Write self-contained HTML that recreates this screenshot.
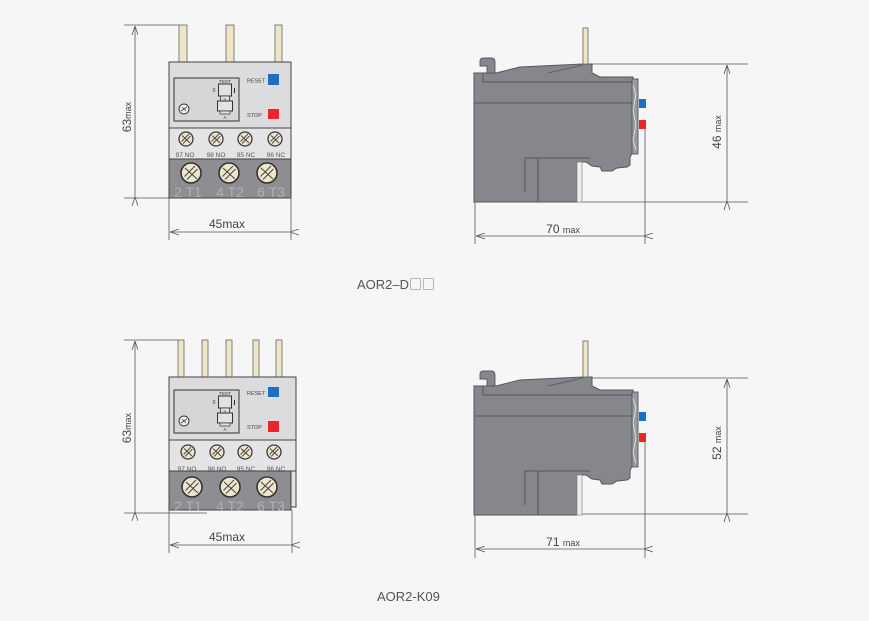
<!DOCTYPE html>
<html><head><meta charset="utf-8"><style>
html,body{margin:0;padding:0;background:#f6f6f6;}
svg{display:block;}
text{font-family:"Liberation Sans",Arial,sans-serif;}
</style></head><body>
<svg width="869" height="621" viewBox="0 0 869 621" xmlns="http://www.w3.org/2000/svg">
<defs>
<marker id="ar" markerWidth="10" markerHeight="8" refX="0" refY="3" orient="auto" markerUnits="userSpaceOnUse">
<path d="M9,0 L0,3 L9,6" fill="none" stroke="#555" stroke-width="0.8"/>
</marker>
<g id="sm">
<circle r="7" fill="#ede6cc" stroke="#3a3a3a" stroke-width="1.3"/>
<path d="M-4.5,2.5 L3,-5 M-3,4.5 L4.5,-3 M-4,-3.5 L4,4" stroke="#444" stroke-width="0.9" fill="none"/>
</g>
<g id="bg">
<circle r="10" fill="#ede6cc" stroke="#333" stroke-width="1.6"/>
<path d="M-6.5,3.5 L4,-7 M-4,6.5 L6.5,-4 M-6,-5 L6,6" stroke="#444" stroke-width="1" fill="none"/>
</g>
<g id="win">
<rect x="0" y="0" width="65" height="43" fill="#d6d6d8" stroke="#333" stroke-width="1"/>
<circle cx="10" cy="31" r="5" fill="#f2f2f2" stroke="#333" stroke-width="0.9"/>
<path d="M7,33 L13,29 M8,29 L12,33" stroke="#444" stroke-width="0.8"/>
<text x="51" y="5" font-size="4.5" text-anchor="middle" fill="#333">TEST</text>
<rect x="44.5" y="6" width="13" height="12" fill="#e2e2e2" stroke="#333" stroke-width="1"/>
<rect x="46.5" y="18" width="9" height="5" fill="#e2e2e2" stroke="#333" stroke-width="0.8"/>
<text x="51" y="22.3" font-size="4" text-anchor="middle" fill="#333">H</text>
<rect x="43.5" y="23" width="15" height="10" fill="#e2e2e2" stroke="#333" stroke-width="1"/>
<rect x="46" y="33" width="10" height="3" fill="#e2e2e2" stroke="#333" stroke-width="0.7"/>
<text x="51" y="41" font-size="4.5" text-anchor="middle" fill="#333">A</text>
<text x="40" y="14" font-size="5" text-anchor="middle" fill="#333">0</text>
<rect x="60" y="10" width="1" height="5" fill="#333"/>
</g>
<g id="side">
<path d="M480,66 L480,61 Q480,58 484,58 L491,58 Q495,58 495,62 L495,73 L487,73 L487,66 Z" fill="#86878c" stroke="#55565b" stroke-width="0.9"/>
<path d="M474,73 L496,73 L520,67 L583,64 L592,64 L592,73 L600,77 L633,77 L633,150 L630,158 L630,165 L627,167 L617,168 L612,171 L602,171 L600,167 L592,166 L586,162 L577,162 L577,202 L474,202 Z" fill="#86878c" stroke="#55565b" stroke-width="1"/>
<path d="M483,73 L483,82 L633,82" fill="none" stroke="#55565b" stroke-width="1"/>
<path d="M548,73 L583,65" fill="none" stroke="#55565b" stroke-width="0.8"/>
<path d="M474,103 L633,103" fill="none" stroke="#55565b" stroke-width="1"/>
<path d="M525,192 L525,158 L590,158" fill="none" stroke="#55565b" stroke-width="1"/>
<path d="M538,158 L538,202" fill="none" stroke="#55565b" stroke-width="1"/>
<rect x="632" y="79" width="6" height="75" fill="#9a9ba0" stroke="#55565b" stroke-width="0.9"/>
<path d="M633,85 L636,95 L633,110 L636,125 L633,140 L636,150" fill="none" stroke="#e8e8e8" stroke-width="0.8"/>
<rect x="577" y="162" width="5" height="40" fill="#eeeeee" stroke="#8a8a8a" stroke-width="0.7"/>
<rect x="639" y="99" width="7" height="9" fill="#1e6fc0"/>
<rect x="639" y="120" width="7" height="9" fill="#e8262b"/>
<rect x="583" y="28" width="5" height="36" fill="#efe6c8" stroke="#666" stroke-width="0.8"/>
</g>
</defs>

<!-- ===== TOP LEFT FRONT VIEW ===== -->
<g stroke="#555" stroke-width="0.8" fill="none">
<line x1="124" y1="25" x2="180" y2="25"/>
<line x1="124" y1="198" x2="169" y2="198"/>
<line x1="135" y1="26" x2="135" y2="197" marker-start="url(#ar)" marker-end="url(#ar)"/>
<line x1="169" y1="198" x2="169" y2="240"/>
<line x1="291" y1="198" x2="291" y2="240"/>
<line x1="170" y1="232" x2="290" y2="232" marker-start="url(#ar)" marker-end="url(#ar)"/>
</g>
<rect x="179" y="25" width="8" height="37" fill="#efe6c8" stroke="#666" stroke-width="0.8"/>
<rect x="226" y="25" width="8" height="37" fill="#efe6c8" stroke="#666" stroke-width="0.8"/>
<rect x="275" y="25" width="7" height="37" fill="#efe6c8" stroke="#666" stroke-width="0.8"/>
<rect x="169" y="62" width="122" height="66" fill="#dcdcde" stroke="#444" stroke-width="1"/>
<use href="#win" x="174" y="78"/>
<text x="247" y="82.5" font-size="5.5" fill="#444">RESET</text>
<rect x="268" y="74" width="11" height="11" fill="#1e6fc0"/>
<text x="247" y="117" font-size="5.5" fill="#444">STOP</text>
<rect x="268" y="109" width="11" height="10" fill="#e8262b"/>
<rect x="169" y="128" width="122" height="31" fill="#e4e4e6" stroke="#444" stroke-width="1"/>
<use href="#sm" x="186" y="139"/><use href="#sm" x="216" y="139"/><use href="#sm" x="245" y="139"/><use href="#sm" x="275" y="139"/>
<g font-size="6.5" fill="#555" text-anchor="middle">
<text x="185" y="157">97 NO</text><text x="216" y="157">98 NO</text><text x="246" y="157">95 NC</text><text x="276" y="157">96 NC</text>
</g>
<rect x="169" y="159" width="122" height="39" fill="#8d8d92" stroke="#444" stroke-width="1"/>
<use href="#bg" x="191" y="173"/><use href="#bg" x="229" y="173"/><use href="#bg" x="267" y="173"/>
<g font-size="14" fill="#b0b0b4" text-anchor="middle">
<text x="188" y="197">2 T1</text><text x="230" y="197">4 T2</text><text x="271" y="197">6 T3</text>
</g>
<text x="227" y="228" font-size="12" fill="#444" text-anchor="middle">45max</text>
<text transform="translate(131,117) rotate(-90)" font-size="12" fill="#444" text-anchor="middle">63<tspan font-size="9">max</tspan></text>

<!-- ===== TOP RIGHT SIDE VIEW ===== -->
<g stroke="#555" stroke-width="0.8" fill="none">
<line x1="590" y1="64" x2="748" y2="64"/>
<line x1="475" y1="202" x2="748" y2="202"/>
<line x1="727" y1="65" x2="727" y2="201" marker-start="url(#ar)" marker-end="url(#ar)"/>
<line x1="475" y1="202" x2="475" y2="244"/>
<line x1="645" y1="129" x2="645" y2="244"/>
<line x1="476" y1="236" x2="644" y2="236" marker-start="url(#ar)" marker-end="url(#ar)"/>
</g>
<use href="#side"/>
<text x="563" y="233" font-size="12" fill="#444" text-anchor="middle">70 <tspan font-size="9">max</tspan></text>
<text transform="translate(721,132) rotate(-90)" font-size="12" fill="#444" text-anchor="middle">46 <tspan font-size="9">max</tspan></text>

<text x="357" y="289" font-size="13" fill="#555">AOR2–D<tspan font-family="'Noto Sans CJK SC', sans-serif" fill="#777">□□</tspan></text>

<!-- ===== BOTTOM LEFT FRONT VIEW ===== -->
<g stroke="#555" stroke-width="0.8" fill="none">
<line x1="124" y1="340" x2="180" y2="340"/>
<line x1="124" y1="513" x2="207" y2="513"/>
<line x1="135" y1="341" x2="135" y2="512" marker-start="url(#ar)" marker-end="url(#ar)"/>
<line x1="169" y1="510" x2="169" y2="553"/>
<line x1="292" y1="510" x2="292" y2="553"/>
<line x1="170" y1="545" x2="291" y2="545" marker-start="url(#ar)" marker-end="url(#ar)"/>
</g>
<g fill="#efe6c8" stroke="#666" stroke-width="0.8">
<rect x="178" y="340" width="6" height="37"/><rect x="202" y="340" width="6" height="37"/><rect x="226" y="340" width="6" height="37"/><rect x="253" y="340" width="6" height="37"/><rect x="276" y="340" width="6" height="37"/>
</g>
<rect x="169" y="377" width="127" height="63" fill="#dcdcde" stroke="#444" stroke-width="1"/>
<use href="#win" x="174" y="390"/>
<text x="247" y="395" font-size="5.5" fill="#444">RESET</text>
<rect x="268" y="387" width="11" height="10" fill="#1e6fc0"/>
<text x="247" y="429" font-size="5.5" fill="#444">STOP</text>
<rect x="268" y="421" width="11" height="11" fill="#e8262b"/>
<rect x="289" y="440" width="7" height="67" fill="#e4e4e6" stroke="#444" stroke-width="1"/>
<rect x="169" y="440" width="127" height="31" fill="#e4e4e6" stroke="#444" stroke-width="1"/>
<use href="#sm" x="188" y="452"/><use href="#sm" x="217" y="452"/><use href="#sm" x="245" y="452"/><use href="#sm" x="274" y="452"/>
<g font-size="6.5" fill="#555" text-anchor="middle">
<text x="187" y="471">97 NO</text><text x="217" y="471">98 NO</text><text x="246" y="471">95 NC</text><text x="276" y="471">96 NC</text>
</g>
<rect x="169" y="471" width="122" height="39" fill="#8d8d92" stroke="#444" stroke-width="1"/>
<use href="#bg" x="192" y="487"/><use href="#bg" x="230" y="487"/><use href="#bg" x="267" y="487"/>
<g font-size="14" fill="#b0b0b4" text-anchor="middle">
<text x="188" y="511">2 T1</text><text x="230" y="511">4 T2</text><text x="271" y="511">6 T3</text>
</g>
<text x="227" y="541" font-size="12" fill="#444" text-anchor="middle">45max</text>
<text transform="translate(131,428) rotate(-90)" font-size="12" fill="#444" text-anchor="middle">63<tspan font-size="9">max</tspan></text>

<!-- ===== BOTTOM RIGHT SIDE VIEW ===== -->
<g stroke="#555" stroke-width="0.8" fill="none">
<line x1="590" y1="378" x2="748" y2="378"/>
<line x1="475" y1="514" x2="748" y2="514"/>
<line x1="727" y1="379" x2="727" y2="513" marker-start="url(#ar)" marker-end="url(#ar)"/>
<line x1="475" y1="514" x2="475" y2="558"/>
<line x1="645" y1="442" x2="645" y2="558"/>
<line x1="476" y1="549" x2="644" y2="549" marker-start="url(#ar)" marker-end="url(#ar)"/>
</g>
<use href="#side" transform="translate(0,313)"/>
<text x="563" y="546" font-size="12" fill="#444" text-anchor="middle">71 <tspan font-size="9">max</tspan></text>
<text transform="translate(721,443) rotate(-90)" font-size="12" fill="#444" text-anchor="middle">52 <tspan font-size="9">max</tspan></text>

<text x="377" y="601" font-size="13" fill="#555">AOR2-K09</text>
</svg>
</body></html>
